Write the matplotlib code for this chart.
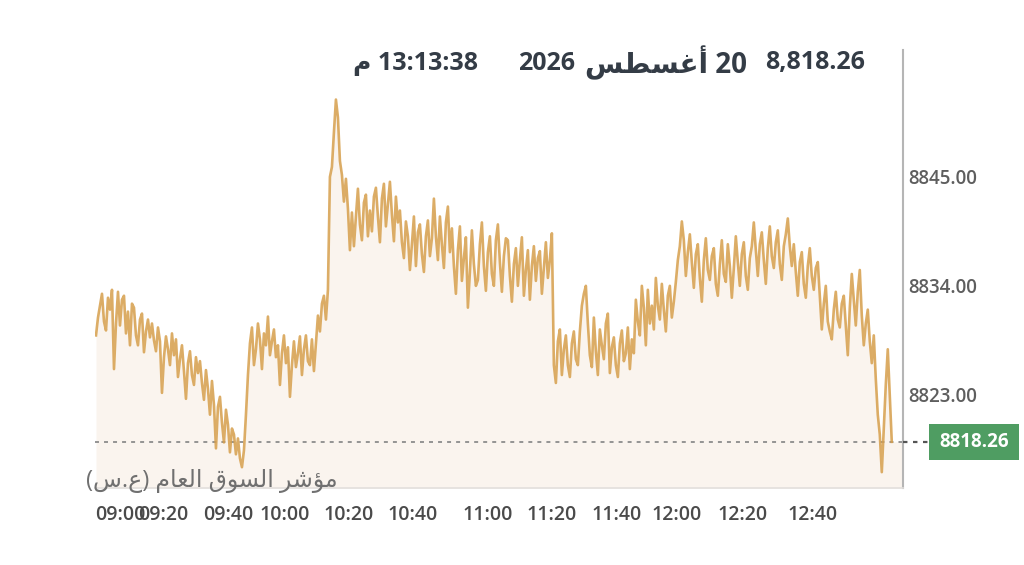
import numpy as np
import matplotlib
matplotlib.use("Agg")
import matplotlib.pyplot as plt
import matplotlib.transforms as mtransforms
from matplotlib.patches import Rectangle
from matplotlib.lines import Line2D

# ---------------- data (index level, left to right) ----------------
values = [
    # 09:00 - 09:10
    8829.0, 8830.8, 8832.0, 8833.2, 8830.4, 8829.5, 8832.8, 8831.6, 8833.6, 8825.6,
    8830.2, 8833.4, 8830.0, 8832.6, 8833.0, 8829.2, 8831.4, 8828.0, 8832.2,
    8831.8, 8829.0, 8828.0, 8830.6, 8831.2, 8827.3, 8829.4, 8830.6, 8828.8, 8830.2,
    8828.5, 8827.4,
    8829.8, 8828.4, 8823.2, 8826.8, 8828.9, 8827.6, 8826.0, 8829.2, 8827.0, 8828.6,
    8824.8, 8826.6, 8828.0, 8825.4, 8822.6, 8826.2, 8827.4, 8825.0, 8824.0, 8826.8,
    8825.2,
    8826.4, 8824.2, 8822.5, 8825.5, 8823.6, 8821.0, 8824.4, 8822.0, 8817.6, 8821.8,
    8822.8, 8820.2,
    8818.2, 8821.5, 8820.0, 8817.2, 8819.6, 8819.0, 8817.0, 8818.6, 8816.6, 8815.7,
    8817.4,
    # rebound
    8821.0, 8825.0, 8828.2, 8829.8, 8826.0, 8827.6, 8830.2, 8828.6, 8825.6, 8829.2,
    8828.0, 8830.9, 8827.0, 8828.4, 8829.6, 8826.8,
    8828.0, 8824.0, 8827.2, 8829.0, 8826.2, 8827.8, 8822.8, 8826.0, 8828.4, 8825.8,
    8827.2, 8828.9, 8825.0, 8827.6, 8829.0, 8826.4, 8826.0, 8828.6, 8825.4, 8828.2,
    8831.0, 8829.4, 8832.2, 8833.0, 8830.6, 8833.6, 8845.0,
    # spike around 10:20
    8846.0, 8849.5, 8852.8, 8851.0, 8846.6, 8845.2, 8842.5, 8844.8, 8841.8, 8837.6,
    8841.4, 8838.0, 8841.0,
    8843.8, 8840.2, 8838.6, 8842.4, 8843.2, 8839.0, 8841.6, 8839.5, 8843.0,
    8843.9, 8841.0, 8838.4, 8842.8, 8844.3, 8840.0, 8842.2, 8844.5, 8841.2, 8838.5,
    8843.0, 8840.4,
    8841.6, 8838.4, 8836.8, 8840.5, 8839.0, 8835.6, 8838.2, 8841.0, 8836.0, 8839.4,
    8840.2, 8837.2, 8835.4, 8839.0, 8840.6, 8837.0, 8838.8,
    8842.8, 8839.0, 8836.6, 8841.0, 8838.2, 8835.8, 8840.4, 8842.0, 8837.4,
    8839.8, 8836.0, 8833.2, 8837.6, 8840.0, 8834.5, 8836.8, 8838.9, 8831.8, 8835.4,
    8839.6, 8836.2, 8834.0,
    8834.6, 8838.2, 8840.4, 8836.0, 8833.5, 8837.4, 8839.0, 8835.2, 8834.0, 8838.6,
    8840.2, 8836.4, 8833.4, 8837.0, 8838.8,
    8838.6, 8835.0, 8832.4, 8836.2, 8837.8, 8834.0, 8836.6, 8838.9, 8833.0, 8835.6,
    8837.6, 8832.6, 8836.0, 8838.0, 8834.5, 8836.8, 8837.5, 8833.2, 8835.8, 8838.4,
    8834.8, 8836.6, 8839.3,
    # drop after 11:20
    8826.0, 8824.2, 8828.4, 8829.6, 8825.0, 8827.6, 8829.0, 8826.0, 8824.8, 8828.2,
    8829.4, 8826.6,
    8826.0, 8829.4, 8832.0, 8833.2, 8834.0, 8830.2, 8827.0, 8825.8,
    8830.8, 8827.4, 8825.0, 8829.6, 8828.0, 8826.6, 8830.2, 8831.2, 8825.2, 8827.8,
    8828.8, 8826.0, 8824.8, 8828.2, 8829.5, 8826.4, 8827.2, 8829.8, 8825.6, 8828.6,
    8827.2, 8832.6, 8830.4, 8829.0, 8834.0, 8831.8, 8828.0, 8833.6, 8830.2, 8832.0,
    8829.6, 8834.8, 8832.0, 8830.6, 8834.2, 8831.6, 8829.4, 8833.0, 8834.0, 8830.8,
    8832.4, 8834.4,
    # 12:00 plateau
    8836.6, 8838.0, 8840.5, 8838.6, 8835.0, 8837.4,
    8839.2, 8836.4, 8833.8, 8837.2, 8838.2, 8834.8, 8832.4, 8836.6, 8838.8, 8835.6,
    8834.6, 8837.0, 8837.8, 8834.2,
    8833.0, 8836.2, 8838.6, 8835.2, 8834.4, 8838.2, 8836.0, 8832.8, 8835.8, 8839.0,
    8836.4, 8834.0, 8837.2, 8838.4, 8835.0, 8833.6, 8836.8, 8838.0,
    8840.4, 8837.6, 8835.0, 8838.2, 8839.4, 8836.6, 8834.2, 8837.8, 8840.0, 8837.0,
    8835.8, 8838.4, 8839.6, 8836.2, 8834.6, 8838.0, 8839.2, 8840.8, 8838.0, 8836.0,
    8838.2, 8835.4, 8833.0, 8836.4, 8837.4, 8834.2, 8832.8, 8836.0, 8837.8, 8835.0,
    8833.6, 8835.8,
    # late decline
    8836.4, 8833.0, 8829.6, 8832.2, 8834.0, 8830.4, 8829.4,
    8828.6, 8831.6, 8833.4, 8830.6, 8829.8, 8832.2, 8833.0, 8830.0,
    8827.0, 8831.8, 8835.2, 8832.6, 8830.0, 8833.4, 8835.6, 8831.0, 8828.0,
    8830.2, 8831.6, 8828.4, 8826.2, 8829.0,
    8824.6, 8821.0, 8819.0, 8815.2, 8819.6, 8824.0, 8827.6, 8823.0, 8818.26,
]
last_value = 8818.26
y_ticks = [8823.0, 8834.0, 8845.0]
x_tick_labels = ["09:00", "09:20", "09:40", "10:00", "10:20", "10:40",
                 "11:00", "11:20", "11:40", "12:00", "12:20", "12:40"]
x_tick_minutes = [10, 23, 42.7, 60, 79.4, 98.8, 121.5, 140.9, 160.6, 178.8, 198.8, 220]

# Arabic strings written in visual (left-to-right) order with Arabic presentation forms
header_value = "8,818.26"
header_num_date = "2026"
header_month = "\uFEB2\uFEC4\uFEB4\uFECF\uFE83 20"              # 20 أغسطس
header_time = "\uFEE1 13:13:38"                                  # 13:13:38 م
index_name = ("(\uFEB1.\uFEC9) \uFEE1\uFE8E\uFECC\uFEDF\uFE8D "
              "\uFED5\uFEEE\uFEB4\uFEDF\uFE8D \uFEAE\uFEB7\uFE86\uFEE3")  # مؤشر السوق العام (ع.س)

# ---------------- figure ----------------
W, H = 1024, 565
FAM = ["Open Sans", "DejaVu Sans"]
plt.rcParams["font.family"] = FAM

fig = plt.figure(figsize=(W / 100, H / 100), dpi=100)
fig.patch.set_facecolor("white")
ax = fig.add_axes([95 / W, 1 - 488 / H, (903 - 95) / W, (488 - 50) / H])

x0, x1 = 2.4, 247.3
y0, y1 = 8813.6, 8857.8
t = np.linspace(2.7, 243.9, len(values))

tf = np.append(t, x1)
vf = np.append(values, values[-1])
ax.fill_between(tf, vf, y0, color="#faf4ee", lw=0, zorder=1)
ax.plot(t, values, color="#d69f4c", lw=1.9, alpha=0.85, zorder=3)
ax.axhline(last_value, color="#8c8c8c", ls=(0, (2.2, 2.8)), lw=1.3, zorder=2)

ax.set_xlim(x0, x1)
ax.set_ylim(y0, y1)

for s in ["top", "left"]:
    ax.spines[s].set_visible(False)
ax.spines["right"].set_color("#b5b5b5")
ax.spines["right"].set_linewidth(1.5)
ax.spines["bottom"].set_color("#e2dfdc")
ax.spines["bottom"].set_linewidth(1.2)

ax.yaxis.tick_right()
ax.set_yticks(y_ticks)
ax.set_yticklabels([f"{v:.2f}" for v in y_ticks])
ax.tick_params(axis="y", length=0, pad=4, labelsize=13.5, labelcolor="#5e5e5e")
ax.set_xticks(x_tick_minutes)
ax.set_xticklabels(x_tick_labels)
ax.tick_params(axis="x", length=0, pad=12, labelsize=14, labelcolor="#4a4a4a")
for lab in ax.get_yticklabels() + ax.get_xticklabels():
    lab.set_fontweight("semibold")

# header
hy = 1 - 63 / H
hc = "#343c46"
fig.text(865 / W, hy, header_value, ha="right", va="center", fontsize=18,
         fontweight="bold", color=hc, family=FAM)
fig.text(747 / W, hy, header_month, ha="right", va="center", fontsize=20,
         fontweight="bold", color=hc, family=FAM)
fig.text(575 / W, hy, header_num_date, ha="right", va="center", fontsize=18,
         fontweight="bold", color=hc, family=FAM)
fig.text(478 / W, hy, header_time, ha="right", va="center", fontsize=18,
         fontweight="bold", color=hc, family=FAM)

# index name
fig.text(338 / W, 1 - 481 / H, index_name, ha="right", va="center", fontsize=17,
         color="#707070", family=FAM)

# last-value marker
bt = mtransforms.blended_transform_factory(fig.transFigure, ax.transData)
fig.add_artist(Line2D([903 / W, 929 / W], [last_value, last_value], transform=bt,
                      color="#555555", ls=(0, (2, 2.5)), lw=1.6))
rect = Rectangle((929 / W, last_value - 18 / 9.91), 90 / W, 36 / 9.91,
                 transform=bt, facecolor="#4f9d62", edgecolor="none")
fig.add_artist(rect)
fig.text(974 / W, last_value, f"{last_value:.2f}", transform=bt, ha="center",
         va="center", fontsize=13.5, fontweight="bold", color="white")

fig.savefig("out.png", dpi=100, facecolor="white")
